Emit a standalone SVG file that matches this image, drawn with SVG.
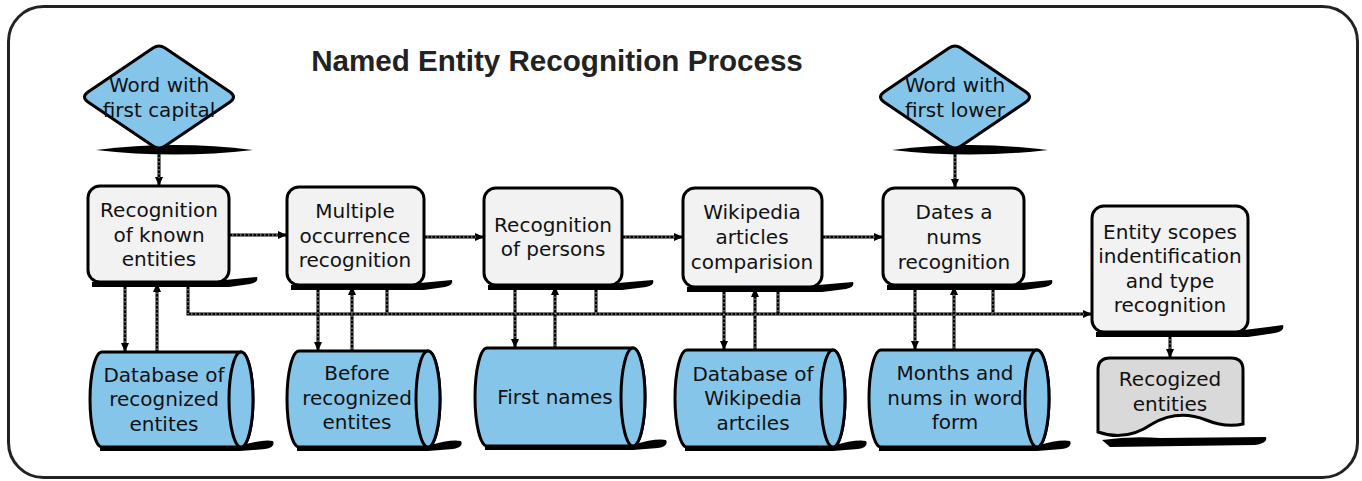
<svg xmlns="http://www.w3.org/2000/svg" width="1362" height="481" viewBox="0 0 1362 481">
<style>
.t{font-family:"DejaVu Sans",Verdana,sans-serif;font-size:20px;fill:#111;text-anchor:middle}
.title{font-family:"Liberation Sans",Arial,sans-serif;font-size:29.6px;font-weight:bold;fill:#222;text-anchor:middle}
.box{fill:#f2f2f2;stroke:#000;stroke-width:3}
.blue{fill:#86c5ea;stroke:#000;stroke-width:3}
.doc{fill:#d9d9d9;stroke:#000;stroke-width:3}
.sh{fill:#000;stroke:none}
.c{stroke:#000;stroke-width:3;fill:none}
.d{stroke:#fff;stroke-width:0.9;stroke-dasharray:1.5 2.5;fill:none;opacity:0.85}
</style>
<defs>
<marker id="ah" markerWidth="10" markerHeight="10" refX="9" refY="5" orient="auto" markerUnits="userSpaceOnUse"><path d="M0,1 L9,5 L0,9 Z" fill="#000"/></marker>
</defs>
<rect x="8.5" y="6.5" width="1349" height="471" rx="35" fill="#fff" stroke="#222" stroke-width="3"/>
<text class="title" x="557" y="71">Named Entity Recognition Process</text>

<g id="connectors">
<path class="c" marker-end="url(#ah)" d="M159,151 L159,186"/>
<path class="c" marker-end="url(#ah)" d="M955,151 L955,188"/>
<path class="c" marker-end="url(#ah)" d="M230,235 L287,235"/>
<path class="c" marker-end="url(#ah)" d="M425,237 L484,237"/>
<path class="c" marker-end="url(#ah)" d="M623,237 L683,237"/>
<path class="c" marker-end="url(#ah)" d="M823,237 L883,237"/>
<path class="c" marker-end="url(#ah)" d="M125,283 L125,352"/>
<path class="c" marker-end="url(#ah)" d="M157,352 L157,283"/>
<path class="c" marker-end="url(#ah)" d="M318,286 L318,351"/>
<path class="c" marker-end="url(#ah)" d="M352,351 L352,286"/>
<path class="c" marker-end="url(#ah)" d="M515,286 L515,348"/>
<path class="c" marker-end="url(#ah)" d="M555,348 L555,286"/>
<path class="c" marker-end="url(#ah)" d="M724,288 L724,350"/>
<path class="c" marker-end="url(#ah)" d="M755,350 L755,288"/>
<path class="c" marker-end="url(#ah)" d="M915,286 L915,350"/>
<path class="c" marker-end="url(#ah)" d="M954,350 L954,286"/>
<path class="c" marker-end="url(#ah)" d="M188,283 L188,314 L1092,314"/>
<path class="c" d="M387,286 L387,314 M596,286 L596,314 M778,288 L778,314 M993,286 L993,314"/>
<path class="c" marker-end="url(#ah)" d="M1170,333 L1170,358"/>
<path class="d" d="M159,153 L159,178 M955,153 L955,180 M232,235 L279,235 M427,237 L476,237 M625,237 L675,237 M825,237 L875,237 M125,285 L125,344 M157,350 L157,291 M318,288 L318,343 M352,349 L352,294 M515,288 L515,340 M555,346 L555,294 M724,290 L724,342 M755,348 L755,296 M915,288 L915,342 M954,348 L954,294 M188,285 L188,314 L1084,314 M387,288 L387,314 M596,288 L596,314 M778,290 L778,314 M993,288 L993,314 M1170,335 L1170,350"/>
</g>

<g id="d1">
<path class="sh" d="M96,150 Q175,140 253,150 Q175,159 96,150 Z"/>
<path class="blue" d="M165,48 L230,92 Q237,97 230,102 L165,146 Q159,150 153,146 L88,102 Q81,97 88,92 L153,48 Q159,44 165,48 Z"/>
<text class="t" x="159" y="92">Word with</text>
<text class="t" x="159" y="117">first capital</text>
</g>
<g id="d2">
<path class="sh" d="M892,150 Q970,140 1048,150 Q970,159 892,150 Z"/>
<path class="blue" d="M961,48 L1026,92 Q1033,97 1026,102 L961,146 Q955,150 949,146 L884,102 Q877,97 884,92 L949,48 Q955,44 961,48 Z"/>
<text class="t" x="955" y="92">Word with</text>
<text class="t" x="955" y="117">first lower</text>
</g>

<g id="b1">
<path class="sh" d="M92,282 L225,280 L257,277 Q259,282 250,284 L229,287 L92,287 Z"/>
<rect class="box" x="88" y="186" width="141" height="96" rx="12"/>
<text class="t" x="159" y="217">Recognition</text>
<text class="t" x="159" y="242">of known</text>
<text class="t" x="159" y="266">entities</text>
</g>
<g id="b2">
<path class="sh" d="M291,285 L420,283 L452,280 Q454,285 445,287 L424,290 L291,290 Z"/>
<rect class="box" x="287" y="187" width="137" height="98" rx="12"/>
<text class="t" x="355" y="218">Multiple</text>
<text class="t" x="355" y="243">occurrence</text>
<text class="t" x="355" y="267">recognition</text>
</g>
<g id="b3">
<path class="sh" d="M488,285 L618,283 L653,280 Q655,285 646,287 L622,290 L488,290 Z"/>
<rect class="box" x="484" y="188" width="138" height="97" rx="12"/>
<text class="t" x="553" y="232">Recognition</text>
<text class="t" x="553" y="256">of persons</text>
</g>
<g id="b4">
<path class="sh" d="M687,287 L818,285 L853,282 Q855,287 846,289 L822,292 L687,292 Z"/>
<rect class="box" x="683" y="188" width="139" height="99" rx="12"/>
<text class="t" x="752" y="219">Wikipedia</text>
<text class="t" x="752" y="244">articles</text>
<text class="t" x="752" y="269">comparision</text>
</g>
<g id="b5">
<path class="sh" d="M887,285 L1020,283 L1052,280 Q1054,285 1045,287 L1024,290 L887,290 Z"/>
<rect class="box" x="883" y="188" width="141" height="97" rx="12"/>
<text class="t" x="954" y="219">Dates a</text>
<text class="t" x="954" y="244">nums</text>
<text class="t" x="954" y="269">recognition</text>
</g>
<g id="b6">
<path class="sh" d="M1096,332 L1244,330 L1283,325 Q1285,331 1275,333 L1248,337 L1096,337 Z"/>
<rect class="box" x="1092" y="206" width="156" height="126" rx="12"/>
<text class="t" x="1170" y="239">Entity scopes</text>
<text class="t" x="1170" y="263">indentification</text>
<text class="t" x="1170" y="288">and type</text>
<text class="t" x="1170" y="312">recognition</text>
</g>

<g id="c1">
<path class="sh" d="M100,446 L240,446 Q262,439 273,441 Q276,447 265,449 L240,451 L100,451 Z"/>
<path class="blue" d="M102,352 L241,352 A12,47.5 0 0 1 241,447 L102,447 A12,47.5 0 0 1 102,352 Z"/>
<ellipse class="blue" cx="241" cy="399.5" rx="12" ry="47.5"/>
<text class="t" x="164" y="382">Database of</text>
<text class="t" x="164" y="406">recognized</text>
<text class="t" x="164" y="431">entites</text>
</g>
<g id="c2">
<path class="sh" d="M297,446 L428,446 Q450,439 461,441 Q464,447 453,449 L428,451 L297,451 Z"/>
<path class="blue" d="M299,351 L428,351 A12,48 0 0 1 428,447 L299,447 A12,48 0 0 1 299,351 Z"/>
<ellipse class="blue" cx="428" cy="399" rx="12" ry="48"/>
<text class="t" x="357" y="380">Before</text>
<text class="t" x="357" y="405">recognized</text>
<text class="t" x="357" y="429">entites</text>
</g>
<g id="c3">
<path class="sh" d="M485,445 L633,445 Q655,438 666,440 Q669,446 658,448 L633,450 L485,450 Z"/>
<path class="blue" d="M487,348 L633,348 A12,49 0 0 1 633,446 L487,446 A12,49 0 0 1 487,348 Z"/>
<ellipse class="blue" cx="633" cy="397" rx="12" ry="49"/>
<text class="t" x="555" y="404">First names</text>
</g>
<g id="c4">
<path class="sh" d="M685,446 L833,446 Q855,439 866,441 Q869,447 858,449 L833,451 L685,451 Z"/>
<path class="blue" d="M687,350 L833,350 A12,48.5 0 0 1 833,447 L687,447 A12,48.5 0 0 1 687,350 Z"/>
<ellipse class="blue" cx="833" cy="398.5" rx="12" ry="48.5"/>
<text class="t" x="753" y="381">Database of</text>
<text class="t" x="753" y="405">Wikipedia</text>
<text class="t" x="753" y="430">artciles</text>
</g>
<g id="c5">
<path class="sh" d="M879,446 L1037,446 Q1059,439 1070,441 Q1073,447 1062,449 L1037,451 L879,451 Z"/>
<path class="blue" d="M881,350 L1037,350 A12,48.5 0 0 1 1037,447 L881,447 A12,48.5 0 0 1 881,350 Z"/>
<ellipse class="blue" cx="1037" cy="398.5" rx="12" ry="48.5"/>
<text class="t" x="955" y="380">Months and</text>
<text class="t" x="955" y="405">nums in word</text>
<text class="t" x="955" y="429">form</text>
</g>

<g id="doc">
<path class="sh" d="M1102,440 Q1130,436 1160,438 L1266,437 Q1268,443 1255,445 L1110,447 Z"/>
<path class="doc" d="M1098,370 Q1098,358 1110,358 L1231,358 Q1243,358 1243,370 L1243,424 Q1226,428 1206,420 Q1178,409 1152,424 Q1126,442 1098,432 Z"/>
<text class="t" x="1170" y="386">Recogized</text>
<text class="t" x="1170" y="411">entities</text>
</g>
</svg>
